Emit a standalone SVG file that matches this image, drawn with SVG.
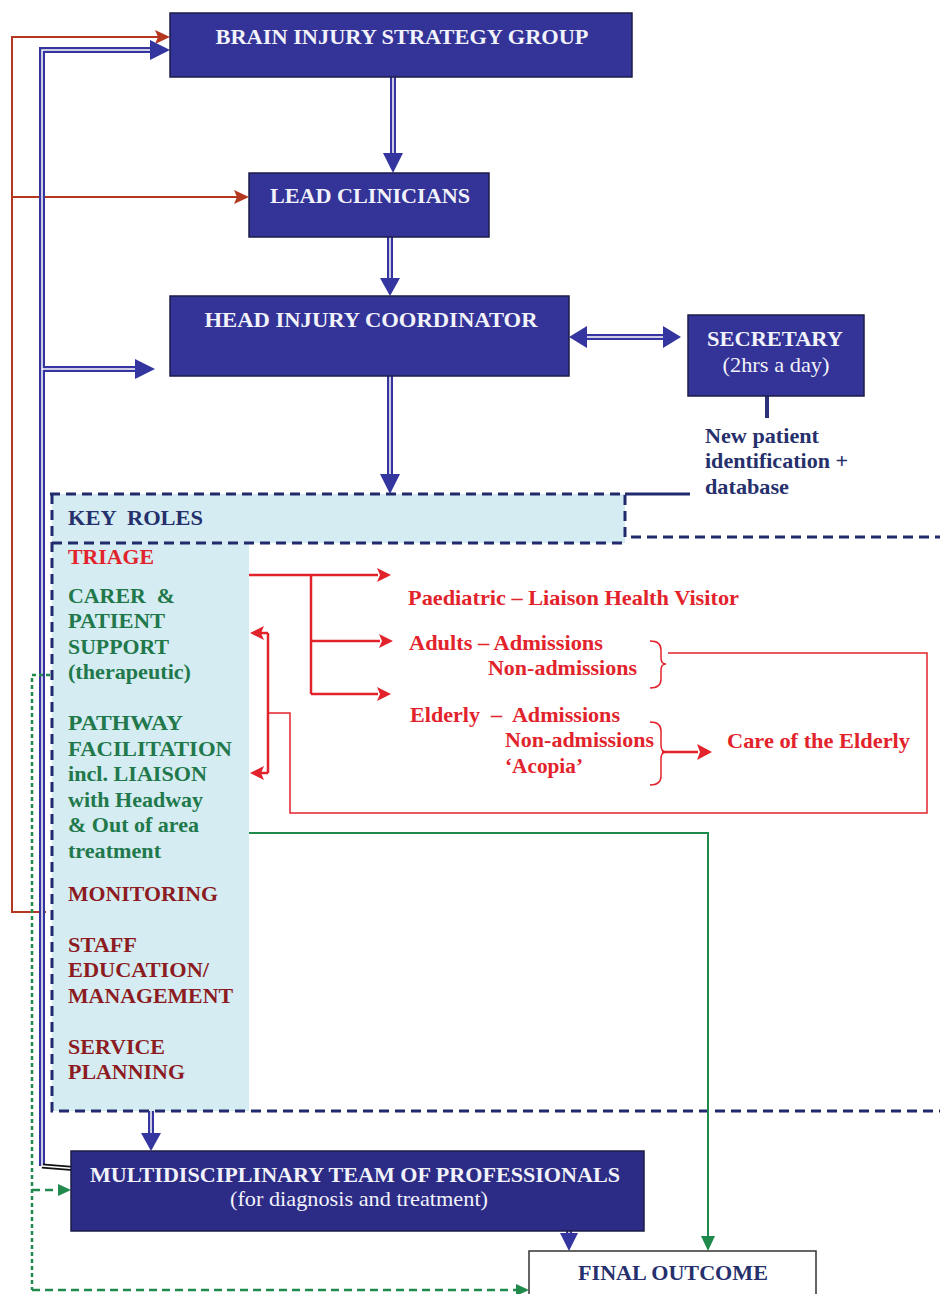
<svg xmlns="http://www.w3.org/2000/svg" width="940" height="1294" viewBox="0 0 940 1294">
  <style>
    text { font-family: "Liberation Serif", "Times New Roman", serif; font-weight: bold; }
    .box { fill: #333398; stroke: #1c1c48; stroke-width: 1.5; }
    .boxtxt { fill: #f2f2fa; font-size: 22px; }
    .boxsub { fill: #f2f2fa; font-size: 21px; font-weight: normal; }
    .navy { fill: #25306c; }
    .grn { fill: #21784a; font-size: 22px; }
    .red { fill: #e2232b; }
    .dred { fill: #8c1c22; font-size: 22px; }
    .rtxt { fill: #e2232b; font-size: 21px; }
    .dash { fill: none; stroke: #212a6c; stroke-width: 3; stroke-dasharray: 10 6; }
    .dblo { fill: none; stroke: #3535a0; stroke-width: 6; }
    .dbli { fill: none; stroke: #ffffff; stroke-width: 1.5; }
    .bh { fill: #3535a0; }
    .brn { fill: none; stroke: #b4381f; stroke-width: 2; }
    .brnh { fill: #b4381f; }
    .rl { fill: none; stroke: #e2232b; stroke-width: 2.5; }
    .rt { fill: none; stroke: #e2232b; stroke-width: 1.5; }
    .rh { fill: #e2232b; }
    .gs { fill: none; stroke: #1f8a4c; stroke-width: 2; }
    .gd { fill: none; stroke: #1f8a4c; stroke-width: 2.5; stroke-dasharray: 4 3; }
    .gdl { fill: none; stroke: #1f8a4c; stroke-width: 2.5; stroke-dasharray: 8 5; }
    .gh { fill: #1f8a4c; }
  </style>

  <rect x="0" y="0" width="940" height="1294" fill="#ffffff"/>

  <!-- key roles panel -->
  <g id="key-roles">
    <rect x="52" y="494" width="573" height="49" fill="#d4ecf2"/>
    <rect x="52" y="543" width="197" height="568" fill="#d4ecf2"/>
    <path class="dash" d="M50 494 H625 V537 H940"/>
    <path class="dash" d="M52 543 H625"/>
    <path class="dash" d="M52 494 V1111 H940"/>
    <path d="M625 494 H690" stroke="#212a6c" stroke-width="3" fill="none"/>
    <text class="navy" x="68" y="525" font-size="22" textLength="135" lengthAdjust="spacingAndGlyphs" xml:space="preserve">KEY  ROLES</text>
    <text class="red" x="68" y="564" font-size="22" textLength="86" lengthAdjust="spacingAndGlyphs">TRIAGE</text>
    <text class="grn" x="68" y="603" textLength="107" lengthAdjust="spacingAndGlyphs" xml:space="preserve">CARER  &amp;</text>
    <text class="grn" x="68" y="628" textLength="97" lengthAdjust="spacingAndGlyphs">PATIENT</text>
    <text class="grn" x="68" y="654" textLength="101" lengthAdjust="spacingAndGlyphs">SUPPORT</text>
    <text class="grn" x="68" y="679" textLength="123" lengthAdjust="spacingAndGlyphs">(therapeutic)</text>
    <text class="grn" x="68" y="730" textLength="115" lengthAdjust="spacingAndGlyphs">PATHWAY</text>
    <text class="grn" x="68" y="756" textLength="164" lengthAdjust="spacingAndGlyphs">FACILITATION</text>
    <text class="grn" x="68" y="781" textLength="139" lengthAdjust="spacingAndGlyphs">incl. LIAISON</text>
    <text class="grn" x="68" y="807" textLength="135" lengthAdjust="spacingAndGlyphs">with Headway</text>
    <text class="grn" x="68" y="832" textLength="131" lengthAdjust="spacingAndGlyphs">&amp; Out of area</text>
    <text class="grn" x="68" y="858" textLength="93" lengthAdjust="spacingAndGlyphs">treatment</text>
    <text class="dred" x="68" y="901" textLength="150" lengthAdjust="spacingAndGlyphs">MONITORING</text>
    <text class="dred" x="68" y="952" textLength="69" lengthAdjust="spacingAndGlyphs">STAFF</text>
    <text class="dred" x="68" y="977" textLength="141" lengthAdjust="spacingAndGlyphs">EDUCATION/</text>
    <text class="dred" x="68" y="1003" textLength="165" lengthAdjust="spacingAndGlyphs">MANAGEMENT</text>
    <text class="dred" x="68" y="1054" textLength="97" lengthAdjust="spacingAndGlyphs">SERVICE</text>
    <text class="dred" x="68" y="1079" textLength="117" lengthAdjust="spacingAndGlyphs">PLANNING</text>
  </g>

  <!-- triage categories -->
  <g id="triage-groups">
    <text class="rtxt" x="408" y="605" textLength="331" lengthAdjust="spacingAndGlyphs">Paediatric – Liaison Health Visitor</text>
    <text class="rtxt" x="409" y="650" textLength="194" lengthAdjust="spacingAndGlyphs">Adults – Admissions</text>
    <text class="rtxt" x="488" y="675" textLength="149" lengthAdjust="spacingAndGlyphs">Non-admissions</text>
    <text class="rtxt" x="410" y="722" textLength="210" lengthAdjust="spacingAndGlyphs" xml:space="preserve">Elderly  –  Admissions</text>
    <text class="rtxt" x="505" y="747" textLength="149" lengthAdjust="spacingAndGlyphs">Non-admissions</text>
    <text class="rtxt" x="505" y="773" textLength="78" lengthAdjust="spacingAndGlyphs">‘Acopia’</text>
    <text class="rtxt" x="727" y="748" textLength="183" lengthAdjust="spacingAndGlyphs">Care of the Elderly</text>
  </g>

  <!-- connectors -->
  <g id="connectors">
    <!-- strategy feedback lines (brown) -->
    <path class="brn" d="M158 37 H12 V912 H46"/>
    <path class="brn" d="M12 197 H238"/>
    <polygon class="brnh" points="170,37 155,30 158,37 155,44"/>
    <polygon class="brnh" points="249,197 234,190 237,197 234,204"/>

    <!-- double blue lines -->
    <path class="dblo" d="M152 50 H42 V1166"/>
    <path class="dblo" d="M42 369 H138"/>
    <path class="dblo" d="M393 77 V156"/>
    <path class="dblo" d="M390 236 V281"/>
    <path class="dblo" d="M390 376 V477"/>
    <path class="dblo" d="M584 337 H666"/>
    <path class="dblo" d="M151 1111 V1135"/>
    <path class="dblo" d="M569 1231 V1236"/>
    <path d="M42 1166 L92 1170" fill="none" stroke="#111111" stroke-width="5"/>
    <path d="M42 1166 L92 1170" fill="none" stroke="#ffffff" stroke-width="1.3"/>
    <path class="dbli" d="M152 50 H42 V1166"/>
    <path class="dbli" d="M42 369 H138"/>
    <path class="dbli" d="M393 77 V156"/>
    <path class="dbli" d="M390 236 V281"/>
    <path class="dbli" d="M390 376 V477"/>
    <path class="dbli" d="M584 337 H666"/>
    <path class="dbli" d="M151 1111 V1135"/>
    <path class="dbli" d="M569 1231 V1240"/>
    <polygon class="bh" points="170,50 150,40 150,60"/>
    <polygon class="bh" points="155,369 135,359 135,379"/>
    <polygon class="bh" points="393,173 383,153 403,153"/>
    <polygon class="bh" points="390,296 380,278 400,278"/>
    <polygon class="bh" points="390,494 380,474 400,474"/>
    <polygon class="bh" points="569,337 587,326 587,348"/>
    <polygon class="bh" points="681,337 663,326 663,348"/>
    <polygon class="bh" points="151,1151 141,1133 161,1133"/>
    <polygon class="bh" points="569,1251 560,1233 578,1233"/>

    <!-- secretary to database note -->
    <path d="M767 396 V418" stroke="#2b3277" stroke-width="4" fill="none"/>

    <!-- triage branches (red) -->
    <path class="rl" d="M249 575 H378 M311 575 V694 M311 641 H380 M311 694 H378"/>
    <polygon class="rh" points="391,575 377,568 380,575 377,582"/>
    <polygon class="rh" points="393,641 379,634 382,641 379,648"/>
    <polygon class="rh" points="391,694 377,687 380,694 377,701"/>
    <path class="rl" d="M268 633 V773 M268 633 H260 M268 773 H260"/>
    <polygon class="rh" points="250,633 264,626 261,633 264,640"/>
    <polygon class="rh" points="250,773 264,766 261,773 264,780"/>
    <path class="rt" d="M268 713 H290 V813 H927 V653 H668"/>
    <path class="rt" d="M650 641 Q661 641 661 650 V658 Q661 664 666 664 Q661 664 661 670 V679 Q661 688 650 688"/>
    <path class="rt" d="M650 722 Q661 722 661 731 V745 Q661 752 666 752 Q661 752 661 759 V776 Q661 785 650 785"/>
    <path class="rl" d="M662 752 H698"/>
    <polygon class="rh" points="712,752 697,744 700,752 697,760"/>

    <!-- pathway facilitation to outcome (green) -->
    <path class="gs" d="M249 833 H708 V1238"/>
    <polygon class="gh" points="708,1251 701,1236 715,1236"/>

    <!-- carer support loop (green dashed) -->
    <path class="gd" d="M50 675 H32 V1290"/>
    <path class="gdl" d="M32 1190 H60"/>
    <path class="gdl" d="M32 1290 H516"/>
    <polygon class="gh" points="71,1190 58,1184 58,1196"/>
    <polygon class="gh" points="529,1290 516,1284 516,1296"/>
  </g>

  <!-- nodes -->
  <g id="strategy-group">
    <rect class="box" x="170" y="13" width="462" height="64"/>
    <text class="boxtxt" x="402" y="44" text-anchor="middle" textLength="373" lengthAdjust="spacingAndGlyphs">BRAIN INJURY STRATEGY GROUP</text>
  </g>
  <g id="lead-clinicians">
    <rect class="box" x="249" y="173" width="240" height="64"/>
    <text class="boxtxt" x="370" y="203" text-anchor="middle" textLength="200" lengthAdjust="spacingAndGlyphs">LEAD CLINICIANS</text>
  </g>
  <g id="head-injury-coordinator">
    <rect class="box" x="170" y="296" width="399" height="80"/>
    <text class="boxtxt" x="371" y="327" text-anchor="middle" textLength="333" lengthAdjust="spacingAndGlyphs">HEAD INJURY COORDINATOR</text>
  </g>
  <g id="secretary">
    <rect class="box" x="688" y="315" width="176" height="81"/>
    <text class="boxtxt" x="775" y="346" text-anchor="middle" textLength="136" lengthAdjust="spacingAndGlyphs">SECRETARY</text>
    <text class="boxsub" x="776" y="372" text-anchor="middle" textLength="107" lengthAdjust="spacingAndGlyphs">(2hrs a day)</text>
  </g>
  <g id="database-note">
    <text class="navy" x="705" y="443" font-size="21" textLength="114" lengthAdjust="spacingAndGlyphs">New patient</text>
    <text class="navy" x="705" y="468" font-size="21" textLength="143" lengthAdjust="spacingAndGlyphs">identification +</text>
    <text class="navy" x="705" y="494" font-size="21" textLength="84" lengthAdjust="spacingAndGlyphs">database</text>
  </g>
  <g id="multidisciplinary-team">
    <rect class="box" x="71" y="1151" width="573" height="80" style="fill:#2c2c86"/>
    <text class="boxtxt" x="90" y="1182" textLength="530" lengthAdjust="spacingAndGlyphs">MULTIDISCIPLINARY TEAM OF PROFESSIONALS</text>
    <text class="boxsub" x="359" y="1206" text-anchor="middle" textLength="258" lengthAdjust="spacingAndGlyphs">(for diagnosis and treatment)</text>
  </g>
  <g id="final-outcome">
    <rect x="529" y="1251" width="287" height="50" fill="#ffffff" stroke="#333333" stroke-width="1.5"/>
    <text class="navy" x="673" y="1280" font-size="22" text-anchor="middle" textLength="190" lengthAdjust="spacingAndGlyphs">FINAL OUTCOME</text>
  </g>
</svg>
